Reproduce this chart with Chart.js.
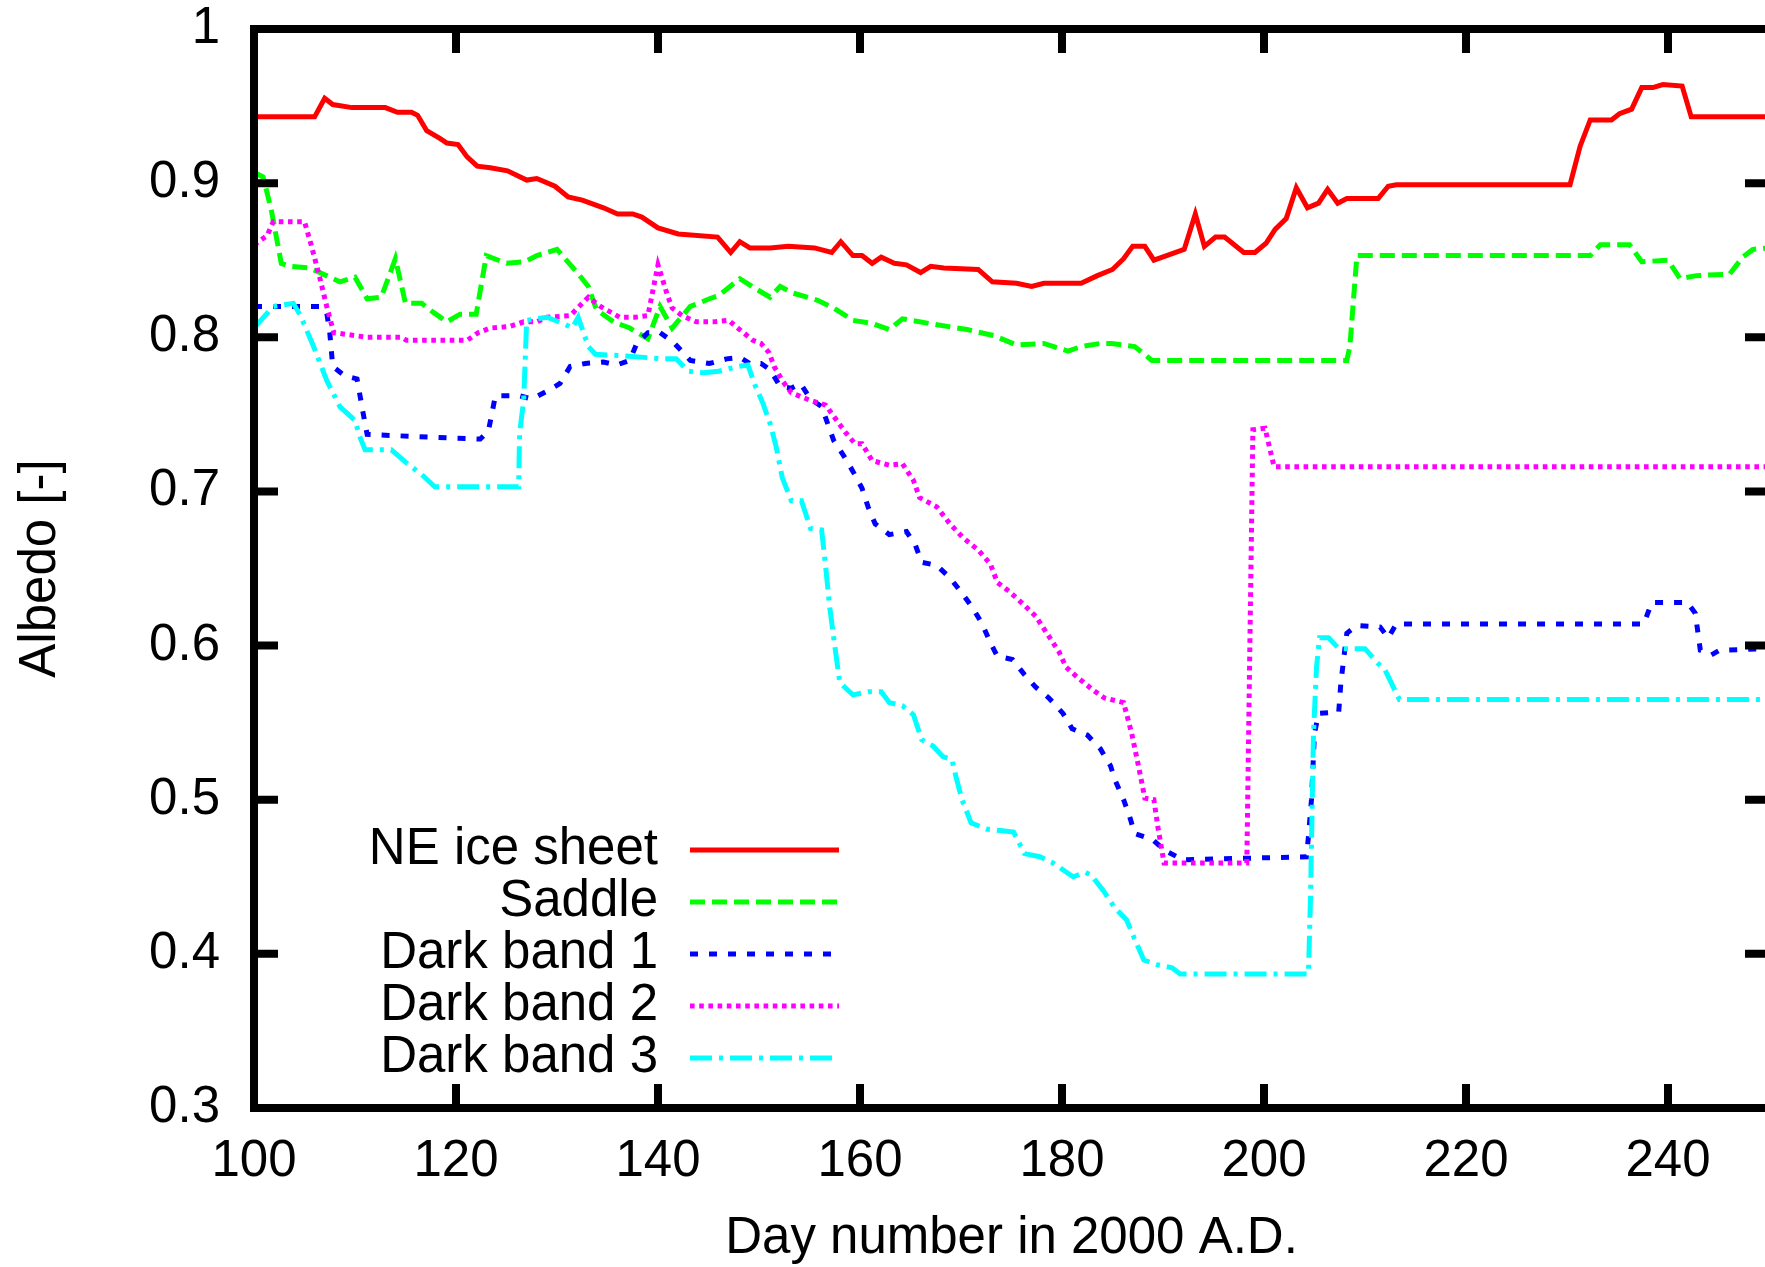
<!DOCTYPE html>
<html>
<head>
<meta charset="utf-8">
<title>Albedo</title>
<script src="https://cdn.jsdelivr.net/npm/chart.js@4.4.0/dist/chart.umd.min.js"></script>
<style>
    html, body { margin: 0; padding: 0; background: #fff; overflow: hidden; }
    canvas { display: block; }
</style>
</head>
<body>
<canvas id="albedoChart" width="1790" height="1267"></canvas>
<script>
// axis ticks
const xTicks = [100, 120, 140, 160, 180, 200, 220, 240];
const yTicks = [0.3, 0.4, 0.5, 0.6, 0.7, 0.8, 0.9, 1.0];
const yTickLabels = ['0.3', '0.4', '0.5', '0.6', '0.7', '0.8', '0.9', '1'];
const xTitle = 'Day number in 2000 A.D.';
const yTitle = 'Albedo [-]';

// NE ice sheet
const neDays = [100, 106, 107, 107.8, 109.7, 113, 114.2, 115.6, 116.2, 117.1, 118.4, 119.1, 120.2, 121.1, 122.1,
    123.4, 125.1, 127, 128, 129.8, 131.1, 132.5, 134.6, 136, 137.5, 138.4, 140, 142, 145.9, 147.2, 148.1, 149.1,
    151.1, 152.9, 155.5, 157.2, 158.1, 159.3, 160.2, 161.2, 162.1, 163.4, 164.6, 166, 167, 168.3, 171.7, 173.1,
    175.5, 177, 178.2, 181.9, 183.5, 185, 186.1, 187, 188.2, 189.1, 192.1, 193.2, 194.1, 195.2, 196.1, 198, 199.1,
    200.2, 201.1, 202.2, 203.2, 204.3, 205.4, 206.3, 207.3, 208.2, 211.3, 212.3, 213.1, 230.3, 231.3, 232.3, 234.4,
    235.2, 236.4, 237.4, 238.5, 239.5, 241.4, 242.3, 250];
const neAlbedo = [.943, .943, .955, .951, .949, .949, .946, .946, .944, .934, .929, .926, .925, .917, .911,
    .910, .908, .902, .903, .898, .891, .889, .884, .880, .880, .878, .871, .867, .865, .855, .862, .858,
    .858, .859, .858, .855, .862, .853, .853, .848, .852, .848, .847, .842, .846, .845, .844, .836,
    .835, .833, .835, .835, .840, .844, .851, .859, .859, .850, .857, .880, .859, .865, .865, .855, .855,
    .861, .870, .877, .897, .884, .887, .896, .887, .890, .890, .898, .899, .899, .924, .941, .941,
    .945, .948, .962, .962, .964, .963, .943, .943];

// Saddle
const saddleDays = [100, 100.9, 101.7, 102.7, 103.6, 105.5, 106.5, 108.5, 110, 111.2, 112.6, 114, 115, 116.6, 117.8,
    119.1, 120.4, 122, 123, 125, 126.8, 128, 130, 132, 133.1, 133.9, 135.6, 137.2, 139, 140.2, 141.4, 143.2, 145.1,
    146, 148.1, 149.8, 151.1, 152.1, 153.2, 155.8, 157.4, 159.3, 161.2, 162.9, 164.2, 166.8, 170.6, 173.3, 175.5,
    178.2, 180.6, 181.9, 183.8, 184.9, 187.2, 188.9, 208.2, 208.5, 209.2, 232.3, 233.3, 236.2, 237.4, 240, 241.2,
    242.8, 246.1, 247.4, 248.4, 250];
const saddleAlbedo = [.907, .904, .883, .848, .846, .845, .842, .836, .839, .825, .826, .851, .822, .822, .816,
    .810, .815, .815, .853, .848, .849, .853, .857, .842, .833, .818, .810, .806, .799, .820, .806, .820, .825,
    .827, .838, .831, .826, .833, .829, .824, .819, .811, .809, .805, .812, .809, .805, .801, .795,
    .796, .791, .794, .796, .796, .794, .785, .785, .794, .853, .853, .860, .860, .849, .850, .838,
    .840, .841, .852, .857, .858];

// Dark band 1
const band1Days = [100, 106.5, 107.2, 107.5, 107.8, 109, 110.2, 110.8, 111.2, 118.1, 122.4, 123.2, 123.9, 126.3,
    127.5, 129, 130.3, 131.3, 132.8, 134.6, 135.9, 137.2, 137.9, 139, 140.2, 141.5, 143.2, 145.1, 146.8, 148.1,
    149.1, 150.2, 151.1, 152.1, 153.2, 154.1, 155.1, 156.2, 157.4, 158.5, 159.3, 160.2, 160.8, 161.5, 162.9,
    164.6, 165.5, 166.1, 167.6, 168.9, 170.1, 171.2, 172.1, 172.9, 173.6, 175.1, 176.3, 177.4, 178.7, 180.1,
    181, 182.5, 183.8, 184.8, 185.3, 186.1, 186.7, 187.2, 189, 190.2, 192, 204.2, 204.4, 204.7, 205,
    205.4, 207.4, 207.6, 207.9, 208.2, 209.2, 211.5, 212.3, 213.1, 237.6, 238.4, 241.9, 242.7, 243.2, 244.3,
    245.1, 250];
const band1Albedo = [.820, .820, .816, .803, .781, .775, .773, .751, .737, .735, .734, .739, .762, .762,
    .760, .765, .770, .781, .783, .784, .782, .785, .796, .803, .803, .797, .785, .783, .786, .787,
    .783, .783, .779, .768, .767, .770, .760, .755, .733, .722, .713, .702, .690, .679, .672,
    .674, .665, .654, .652, .644, .634, .624, .614, .602, .593, .591, .581, .573, .566, .556,
    .546, .542, .533, .522, .512, .500, .489, .478, .474, .467, .461, .463, .476, .500, .543,
    .556, .557, .575, .592, .608, .613, .612, .605, .614, .614, .628, .628, .621, .597, .594,
    .597, .598];

// Dark band 2
const band2Days = [100, 101.3, 101.9, 105, 105.7, 106.5, 107.2, 107.9, 111.2, 114.6, 115.1, 121.1, 122.2, 123.4,
    125.3, 126.7, 128, 129, 131.3, 133.1, 134.3, 136.2, 137.7, 139, 140, 140.9, 141.4, 142.4, 143.8, 145.5, 147,
    147.9, 149.4, 150.2, 151, 151.5, 152.3, 153.2, 155.1, 156.6, 157.7, 158.6, 159.5, 160.2, 161.2, 162.9, 164.2,
    165.3, 165.9, 167.6, 168.9, 170.2, 171.7, 172.9, 173.6, 174.8, 176.3, 177.4, 178.5, 179.7, 180.4, 181.6,
    183.1, 184.2, 186.1, 186.9, 187.6, 188.2, 189.1, 189.5, 190.1, 198.3, 198.9, 200.1, 201, 250];
const band2Albedo = [.860, .866, .875, .875, .859, .839, .820, .803, .800, .800, .798, .798, .803, .806,
    .807, .810, .810, .813, .814, .826, .820, .813, .813, .814, .847, .828, .819, .814, .810, .810, .811,
    .806, .798, .796, .790, .781, .772, .764, .759, .756, .746, .738, .731, .731, .720, .717, .718,
    .707, .696, .690, .679, .670, .662, .653, .641, .635, .626, .619, .608, .596, .586, .579,
    .571, .566, .563, .543, .521, .501, .500, .482, .459, .459, .740, .741, .716, .716];

// Dark band 3
const band3Days = [100, 101.9, 103.9, 104.6, 105.9, 107.2, 108.5, 110, 110.5, 111, 113.6, 115, 116.6, 117.9, 126.2,
    126.3, 126.7, 127, 129, 130.6, 131.5, 132.1, 133.1, 133.8, 136.6, 140.5, 141.8, 143, 144.5, 146, 147.9, 148.9,
    149.6, 150.4, 151.1, 151.7, 152.3, 153.2, 154.2, 155.1, 156.2, 156.6, 157, 157.6, 158, 159.3, 160.8, 162.1,
    162.9, 164.2, 165.3, 166.1, 167.2, 168.2, 169.1, 169.5, 170.1, 171, 172.5, 173.9, 175.2, 176.3, 177.8, 179.1,
    181.1, 182.3, 182.9, 184.1, 185.2, 186.4, 187.1, 188.1, 189.4, 190.9, 191.7, 204.4, 204.6, 204.9, 205.2,
    205.5, 206.4, 207.4, 210, 211.2, 212, 213.4, 250];
const band3Albedo = [.806, .820, .822, .814, .794, .772, .755, .746, .735, .727, .727, .719, .711, .703, .703,
    .738, .759, .811, .813, .809, .806, .813, .794, .789, .788, .786, .786, .778, .777, .778, .781, .782,
    .769, .757, .744, .729, .709, .694, .694, .676, .675, .651, .625, .595, .576, .568, .570, .570,
    .563, .561, .555, .539, .535, .528, .526, .515, .500, .485, .481, .480, .479, .465, .463, .459,
    .450, .453, .451, .441, .430, .422, .411, .396, .393, .391, .387, .387, .435, .543, .586,
    .605, .605, .598, .598, .589, .584, .565, .565];

const FONT = '"Liberation Sans", Arial, Helvetica, sans-serif';
Chart.defaults.font.family = FONT;
Chart.defaults.font.size = 51;
Chart.defaults.color = '#000';

function pts(days, vals) {
    return days.map((d, i) => ({ x: d, y: vals[i] }));
}

function series(label, days, vals, color, dash, order) {
    return {
        label: label,
        data: pts(days, vals),
        borderColor: color,
        backgroundColor: color,
        borderWidth: 5,
        borderDash: dash,
        borderCapStyle: 'butt',
        pointRadius: 0,
        tension: 0,
        fill: false,
        order: order
    };
}

// gnuplot style frame with inward ticks on all four sides
const framePlugin = {
    id: 'frame',
    afterDatasetsDraw(chart) {
        const { ctx, chartArea: a, scales } = chart;
        const len = 24;
        ctx.save();
        ctx.strokeStyle = '#000';
        ctx.lineWidth = 8;
        ctx.lineCap = 'butt';
        ctx.beginPath();
        xTicks.forEach(v => {
            const px = scales.x.getPixelForValue(v);
            ctx.moveTo(px, a.bottom); ctx.lineTo(px, a.bottom - len);
            ctx.moveTo(px, a.top); ctx.lineTo(px, a.top + len);
        });
        yTicks.forEach(v => {
            const py = scales.y.getPixelForValue(v);
            ctx.moveTo(a.left, py); ctx.lineTo(a.left + len, py);
            ctx.moveTo(a.right, py); ctx.lineTo(a.right - len, py);
        });
        ctx.stroke();
        ctx.lineJoin = 'miter';
        ctx.strokeRect(a.left, a.top, a.right - a.left, a.bottom - a.top);
        ctx.restore();
    }
};

// key inside the plot: text right-aligned, line sample on its right
const keyPlugin = {
    id: 'key',
    afterDraw(chart) {
        const { ctx } = chart;
        const textRight = 658, lineStart = 690, lineEnd = 839, top = 850, step = 52;
        ctx.save();
        ctx.font = '51px ' + FONT;
        ctx.textAlign = 'right';
        ctx.textBaseline = 'middle';
        chart.data.datasets.forEach((ds, i) => {
            const y = top + i * step;
            ctx.fillStyle = '#000';
            ctx.fillText(ds.label, textRight, y);
            ctx.strokeStyle = ds.borderColor;
            ctx.lineWidth = ds.borderWidth;
            ctx.lineCap = 'butt';
            ctx.setLineDash(ds.borderDash || []);
            ctx.beginPath();
            ctx.moveTo(lineStart, y);
            ctx.lineTo(lineEnd, y);
            ctx.stroke();
        });
        ctx.restore();
    }
};

const chart = new Chart(document.getElementById('albedoChart').getContext('2d'), {
    type: 'line',
    data: {
        datasets: [
            series('NE ice sheet', neDays, neAlbedo, '#ff0000', [], 5),
            series('Saddle', saddleDays, saddleAlbedo, '#00ff00', [15, 7], 4),
            series('Dark band 1', band1Days, band1Albedo, '#0000ff', [8, 11], 3),
            series('Dark band 2', band2Days, band2Albedo, '#ff00ff', [4.6, 4.6], 2),
            series('Dark band 3', band3Days, band3Albedo, '#00ffff', [22, 7, 4, 7], 1)
        ]
    },
    options: {
        responsive: false,
        animation: false,
        layout: {
            padding: { left: 0, top: 29, right: 21, bottom: 0 }
        },
        plugins: {
            legend: { display: false },
            tooltip: { enabled: false }
        },
        scales: {
            x: {
                type: 'linear',
                min: 100,
                max: 250,
                grid: { display: false, drawTicks: false },
                border: { display: false },
                afterBuildTicks: s => { s.ticks = xTicks.map(v => ({ value: v })); },
                afterFit: s => {
                    s.height = 159;
                    s.paddingLeft = 0;
                    s.paddingRight = 0;
                },
                ticks: {
                    padding: 23,
                    maxRotation: 0,
                    autoSkip: false,
                    font: { size: 51 },
                    callback: v => String(v)
                },
                title: {
                    display: true,
                    text: xTitle,
                    font: { size: 51 },
                    padding: { top: 0, bottom: -3 }
                }
            },
            y: {
                type: 'linear',
                min: 0.3,
                max: 1,
                grid: { display: false, drawTicks: false },
                border: { display: false },
                afterBuildTicks: s => { s.ticks = yTicks.map(v => ({ value: v })); },
                afterFit: s => {
                    s.width = 254;
                    s.paddingTop = 0;
                    s.paddingBottom = 0;
                },
                ticks: {
                    padding: 34,
                    autoSkip: false,
                    font: { size: 51 },
                    callback: (v, i) => yTickLabels[i]
                },
                title: {
                    display: true,
                    text: yTitle,
                    font: { size: 51 },
                    padding: { top: 10, bottom: 0 }
                }
            }
        }
    },
    plugins: [framePlugin, keyPlugin]
});
</script>
</body>
</html>
